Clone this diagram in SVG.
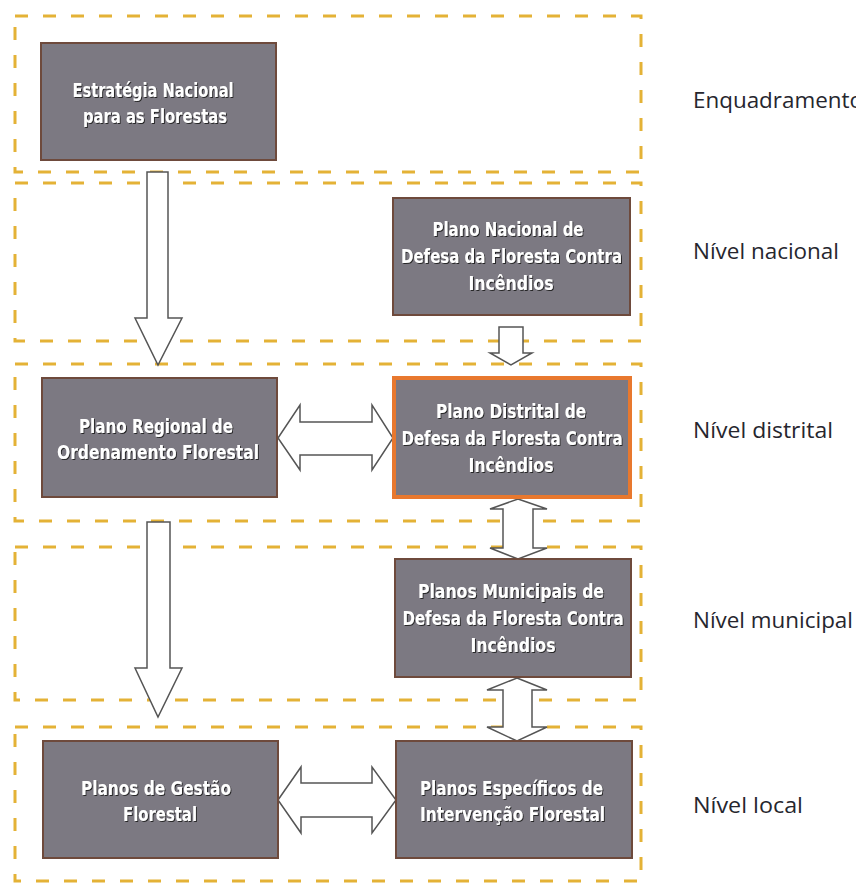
<svg xmlns="http://www.w3.org/2000/svg" width="856" height="883" viewBox="0 0 856 883">
<style>
.frame{fill:none;stroke:#e4b236;stroke-width:3;stroke-dasharray:13 15}
.box{fill:#7c7982;stroke:#6e4a3c;stroke-width:2}
.hl{fill:#7c7982;stroke:#e8782e;stroke-width:4}
.bt{font-family:"DejaVu Sans","Liberation Sans",sans-serif;font-stretch:condensed;font-weight:bold;font-size:20px;fill:#ffffff;text-anchor:middle;filter:url(#sh)}
.lbl{font-family:"Open Sans","Liberation Sans",sans-serif;font-size:21px;fill:#26262e}
.arr{fill:#ffffff;stroke:#555555;stroke-width:1.5;stroke-linejoin:miter}
</style>
<defs>
<filter id="sh" x="-10%" y="-30%" width="120%" height="160%">
<feDropShadow dx="1" dy="1" stdDeviation="0.7" flood-color="#1e1e1e" flood-opacity="0.9"/>
</filter>
</defs>
<rect width="856" height="883" fill="#ffffff"/>
<g id="frames">
<rect class="frame" x="15" y="16" width="626" height="156"/>
<rect class="frame" x="15" y="183" width="626" height="158"/>
<rect class="frame" x="15" y="364" width="626" height="157"/>
<rect class="frame" x="15" y="547" width="626" height="153"/>
<rect class="frame" x="15" y="727" width="626" height="154"/>
</g>
<g id="connectors">
<polygon class="arr" points="147,172 168,172 168,318 182,318 158,365 135,318 147,318"/>
<polygon class="arr" points="499,327 523,327 523,353 532,353 511,365 490,353 499,353"/>
<polygon class="arr" points="278,438 300,405 300,422 372,422 372,405 393,438 372,470 372,455 300,455 300,470"/>
<polygon class="arr" points="518,499 547,509 533,509 533,548 547,548 518,559 490,548 503,548 503,509 490,509"/>
<polygon class="arr" points="517,678 547,690 532,690 532,727 547,727 517,741 487,727 503,727 503,690 487,690"/>
<polygon class="arr" points="278,800 301,767 301,783 372,783 372,767 396,800 372,833 372,817 301,817 301,833"/>
<polygon class="arr" points="147,522 170,522 170,668 182,668 158,717 135,668 147,668"/>
</g>
<g id="n1">
<rect class="box" x="41" y="43" width="235" height="117"/>
<text class="bt" x="153" y="97" textLength="161" lengthAdjust="spacingAndGlyphs">Estratégia Nacional</text>
<text class="bt" x="155" y="123" textLength="144" lengthAdjust="spacingAndGlyphs">para as Florestas</text>
</g>
<g id="n2">
<rect class="box" x="393" y="198" width="237" height="117"/>
<text class="bt" x="508" y="236" textLength="151" lengthAdjust="spacingAndGlyphs">Plano Nacional de</text>
<text class="bt" x="511.5" y="263" textLength="221" lengthAdjust="spacingAndGlyphs">Defesa da Floresta Contra</text>
<text class="bt" x="511" y="290" textLength="85" lengthAdjust="spacingAndGlyphs">Incêndios</text>
</g>
<g id="n3">
<rect class="box" x="42" y="378" width="235" height="119"/>
<text class="bt" x="156" y="433" textLength="154" lengthAdjust="spacingAndGlyphs">Plano Regional de</text>
<text class="bt" x="158" y="459" textLength="202" lengthAdjust="spacingAndGlyphs">Ordenamento Florestal</text>
</g>
<g id="n4">
<rect class="hl" x="394" y="378" width="236" height="119"/>
<text class="bt" x="511" y="418" textLength="150" lengthAdjust="spacingAndGlyphs">Plano Distrital de</text>
<text class="bt" x="512" y="445" textLength="221" lengthAdjust="spacingAndGlyphs">Defesa da Floresta Contra</text>
<text class="bt" x="511" y="472" textLength="85" lengthAdjust="spacingAndGlyphs">Incêndios</text>
</g>
<g id="n5">
<rect class="box" x="395" y="559" width="236" height="118"/>
<text class="bt" x="511" y="598" textLength="186" lengthAdjust="spacingAndGlyphs">Planos Municipais de</text>
<text class="bt" x="513" y="625" textLength="221" lengthAdjust="spacingAndGlyphs">Defesa da Floresta Contra</text>
<text class="bt" x="513" y="652" textLength="85" lengthAdjust="spacingAndGlyphs">Incêndios</text>
</g>
<g id="n6">
<rect class="box" x="43" y="741" width="235" height="117"/>
<text class="bt" x="156" y="795" textLength="150" lengthAdjust="spacingAndGlyphs">Planos de Gestão</text>
<text class="bt" x="160" y="821" textLength="74" lengthAdjust="spacingAndGlyphs">Florestal</text>
</g>
<g id="n7">
<rect class="box" x="396" y="741" width="236" height="117"/>
<text class="bt" x="511.5" y="795" textLength="183" lengthAdjust="spacingAndGlyphs">Planos Específicos de</text>
<text class="bt" x="512.5" y="821" textLength="185" lengthAdjust="spacingAndGlyphs">Intervenção Florestal</text>
</g>
<g id="labels">
<text class="lbl" x="693" y="108" textLength="170" lengthAdjust="spacingAndGlyphs">Enquadramento</text>
<text class="lbl" x="693" y="259" textLength="146" lengthAdjust="spacingAndGlyphs">Nível nacional</text>
<text class="lbl" x="693" y="438" textLength="140" lengthAdjust="spacingAndGlyphs">Nível distrital</text>
<text class="lbl" x="693" y="628" textLength="160" lengthAdjust="spacingAndGlyphs">Nível municipal</text>
<text class="lbl" x="693" y="813" textLength="110" lengthAdjust="spacingAndGlyphs">Nível local</text>
</g>
</svg>
